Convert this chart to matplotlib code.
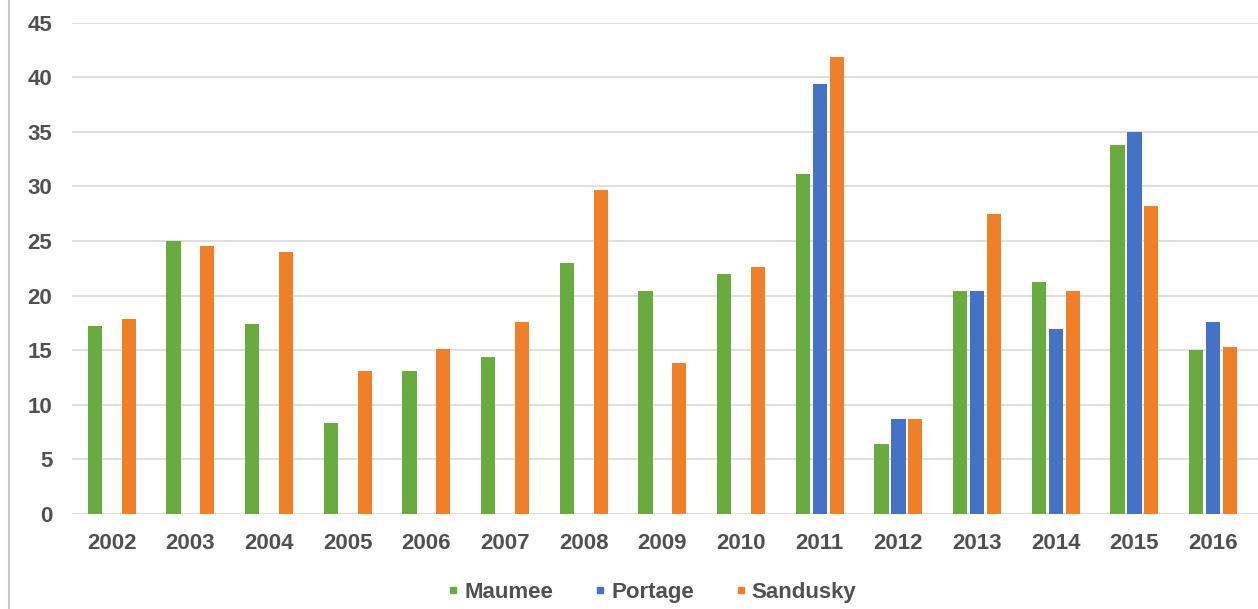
import numpy as np
import matplotlib.pyplot as plt
from matplotlib.lines import Line2D

plt.rcParams['font.family'] = ['Liberation Sans', 'DejaVu Sans']

years = ['2002', '2003', '2004', '2005', '2006', '2007', '2008', '2009',
         '2010', '2011', '2012', '2013', '2014', '2015', '2016']
maumee = [17.2, 25.0, 17.4, 8.3, 13.1, 14.4, 23.0, 20.4, 22.0,
          31.1, 6.4, 20.4, 21.2, 33.8, 15.0]
portage = [np.nan, np.nan, np.nan, np.nan, np.nan, np.nan, np.nan, np.nan, np.nan,
           39.4, 8.7, 20.4, 16.9, 35.0, 17.6]
sandusky = [17.9, 24.5, 24.0, 13.1, 15.1, 17.6, 29.7, 13.8, 22.6,
            41.8, 8.7, 27.5, 20.4, 28.2, 15.3]

series = [('Maumee', maumee, '#6aab3f'),
          ('Portage', portage, '#4472c4'),
          ('Sandusky', sandusky, '#f07f2a')]

fig = plt.figure(figsize=(12.58, 6.09), dpi=100)
ax = fig.add_axes([0.057, 0.156, 0.943, 0.807])

x = np.arange(len(years))
width = 0.18
offset = 0.215
for i, (name, vals, color) in enumerate(series):
    ax.bar(x + (i - 1) * offset, vals, width, color=color, label=name, zorder=3)

ax.set_ylim(0, 45)
ax.set_xlim(-0.51, 14.57)
ax.set_yticks(range(0, 46, 5))
ax.set_xticks(x)
ax.set_xticklabels(years)
ax.yaxis.grid(True, color='#d9d9d9', linewidth=1.2, zorder=0)
ax.tick_params(axis='both', length=0, labelsize=16, labelcolor='#505050')
ax.tick_params(axis='y', pad=14)
ax.tick_params(axis='x', pad=14)
for lab in ax.get_xticklabels() + ax.get_yticklabels():
    lab.set_fontweight('bold')
for s in ax.spines.values():
    s.set_visible(False)

handles = [Line2D([], [], marker='s', linestyle='none', markersize=5,
                  color=c, label=n) for n, _, c in series]
leg = fig.legend(handles=handles, loc='center', bbox_to_anchor=(0.518, 0.027),
                 ncol=3, frameon=False, handlelength=0.6, handletextpad=0.2,
                 columnspacing=1.8, prop={'size': 16, 'weight': 'bold'})
for t in leg.get_texts():
    t.set_color('#505050')

# thin border line at the left edge
fig.add_artist(Line2D([0.007, 0.007], [0.0, 1.0], color='#c8c8c8', linewidth=1.5))

fig.savefig('out.png', dpi=100)
